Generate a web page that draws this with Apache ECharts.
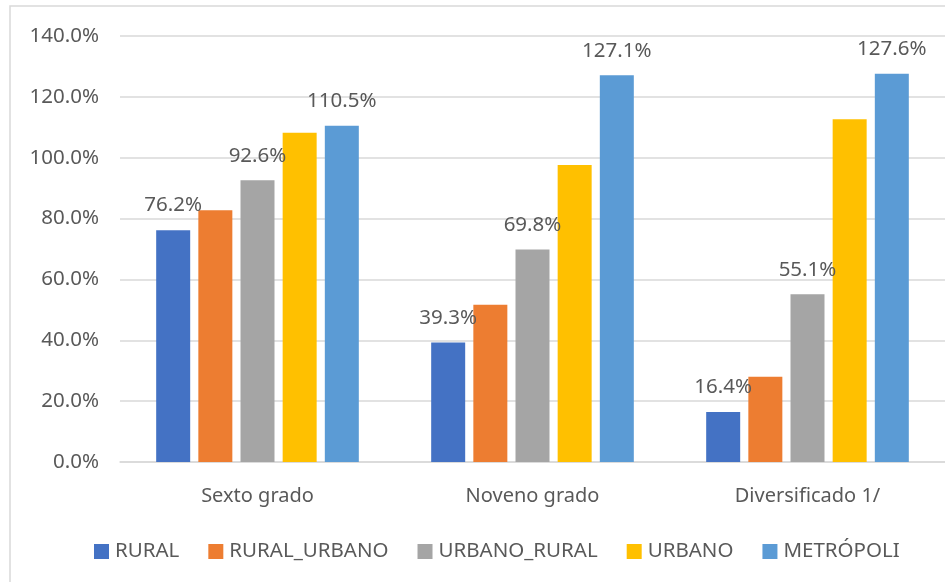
<!DOCTYPE html>
<html>
<head>
<meta charset="utf-8">
<script src="https://cdn.jsdelivr.net/npm/echarts@6/dist/echarts.min.js"></script>
<style>
  html, body { margin: 0; padding: 0; background: #fff; }
  #chart { width: 945px; height: 582px; }
</style>
</head>
<body>
<div id="chart"></div>
<script>
const categories = ['Sexto grado', 'Noveno grado', 'Diversificado 1/']
const rural = [76.2, 39.3, 16.4]
const ruralUrbano = [82.7, 51.7, 28.0]
const urbanoRural = [92.6, 69.8, 55.1]
const urbano = [108.2, 97.6, 112.6]
const metropoli = [110.5, 127.1, 127.6]
const yTicks = { min: 0, max: 140, interval: 20 }

const font = '"Noto Sans", "Open Sans", sans-serif'
const textColor = '#595959'
const gridColor = '#d9d9d9'

function makeSeries(name, data, color, showLabel) {
  return {
    name: name,
    type: 'bar',
    data: data,
    barWidth: 34,
    barGap: '24%',
    itemStyle: { color: color },
    label: {
      show: showLabel,
      position: 'top',
      distance: 14,
      color: textColor,
      fontFamily: font,
      fontSize: 20.5,
      formatter: p => p.value.toFixed(1) + '%'
    }
  }
}

const chart = echarts.init(document.getElementById('chart'))
chart.setOption({
  animation: false,
  textStyle: { fontFamily: font },
  graphic: [{
    type: 'rect',
    shape: { x: 10, y: 6, width: 1000, height: 1000 },
    style: { fill: 'none', stroke: gridColor, lineWidth: 1.5 },
    silent: true
  }],
  legend: {
    left: 89,
    top: 536,
    icon: 'rect',
    itemWidth: 15,
    itemHeight: 15,
    itemGap: 29,
    textStyle: { color: textColor, fontSize: 20.5, fontFamily: font, padding: [0, 0, 0, 1] }
  },
  grid: { left: 120, right: 0, top: 36, bottom: 120 },
  xAxis: {
    type: 'category',
    data: categories,
    axisTick: { show: false },
    axisLine: { lineStyle: { color: gridColor, width: 1.5 } },
    axisLabel: { color: textColor, fontSize: 20, fontFamily: font, margin: 24 }
  },
  yAxis: {
    type: 'value',
    min: yTicks.min,
    max: yTicks.max,
    interval: yTicks.interval,
    axisLine: { show: false },
    axisTick: { show: false },
    splitLine: { lineStyle: { color: gridColor, width: 1.5 } },
    axisLabel: {
      color: textColor,
      fontSize: 20.5,
      fontFamily: font,
      margin: 21,
      formatter: v => v.toFixed(1) + '%'
    }
  },
  series: [
    makeSeries('RURAL', rural, '#4472C4', true),
    makeSeries('RURAL_URBANO', ruralUrbano, '#ED7D31', false),
    makeSeries('URBANO_RURAL', urbanoRural, '#A5A5A5', true),
    makeSeries('URBANO', urbano, '#FFC000', false),
    makeSeries('METRÓPOLI', metropoli, '#5B9BD5', true)
  ]
})
</script>
</body>
</html>
